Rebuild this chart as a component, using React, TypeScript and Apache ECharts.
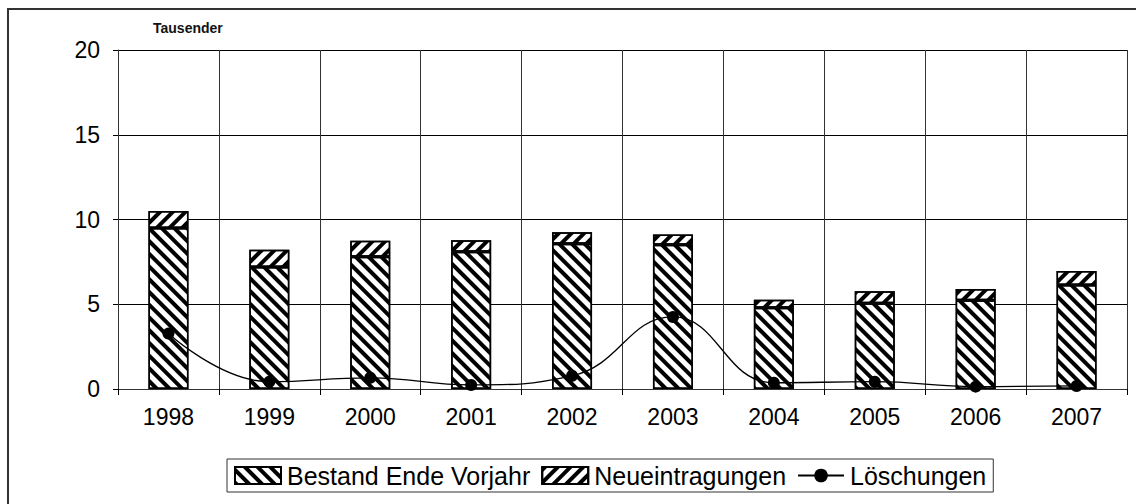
import React, { useEffect, useRef } from "react";
import * as echarts from "echarts";

const years = ["1998", "1999", "2000", "2001", "2002", "2003", "2004", "2005", "2006", "2007"];
const bestand = [9.5, 7.2, 7.8, 8.1, 8.57, 8.51, 4.8, 5.06, 5.24, 6.14];
const neu = [1.0, 1.02, 0.95, 0.68, 0.68, 0.6, 0.47, 0.7, 0.66, 0.82];
const loeschungen = [3.27, 0.43, 0.66, 0.24, 0.78, 4.25, 0.37, 0.43, 0.14, 0.18];
const yTicks = { min: 0, max: 20, interval: 5 };

const FONT = "'Liberation Sans', Arial, sans-serif";

export default function App() {
  const ref = useRef<HTMLDivElement>(null);
  useEffect(() => {
    if (!ref.current) return;
    const chart = echarts.init(ref.current, undefined, { renderer: "svg" });
    const decalBack = {
      symbol: "rect",
      symbolSize: 1,
      dashArrayX: [1, 0],
      dashArrayY: [3.5, 4.5],
      rotation: Math.PI / 4,
      color: "#000",
      backgroundColor: "#fff",
    };
    const decalFwd = {
      symbol: "rect",
      symbolSize: 1,
      dashArrayX: [1, 0],
      dashArrayY: [3.5, 4.5],
      rotation: -Math.PI / 4,
      color: "#000",
      backgroundColor: "#fff",
    };
    chart.setOption({
      animation: false,
      backgroundColor: "#fff",
      textStyle: { fontFamily: FONT },
      grid: { left: 118, right: 9, top: 50, bottom: 115, containLabel: false },
      graphic: [
        { type: "line", shape: { x1: 7, y1: 9, x2: 1136, y2: 9 }, style: { stroke: "#333", lineWidth: 2 } },
        { type: "line", shape: { x1: 8, y1: 9, x2: 8, y2: 504 }, style: { stroke: "#333", lineWidth: 2 } },
        {
          type: "text",
          left: 153,
          top: 21,
          style: { text: "Tausender", font: `bold 14px ${FONT}`, fill: "#111" },
        },
      ],
      legend: {
        left: 227,
        top: 459,
        orient: "horizontal",
        itemWidth: 46,
        itemHeight: 17,
        itemGap: 11,
        padding: [4, 7, 4, 7],
        borderColor: "#333",
        borderWidth: 1,
        textStyle: { fontSize: 25, color: "#000", fontFamily: FONT, padding: [0, 0, 0, 1] },
        data: [
          { name: "Bestand Ende Vorjahr", icon: "rect" },
          { name: "Neueintragungen", icon: "rect" },
          { name: "Löschungen" },
        ],
      },
      xAxis: {
        type: "category",
        data: years,
        boundaryGap: true,
        axisLine: { lineStyle: { color: "#333", width: 1 } },
        axisTick: { show: true, length: 6, lineStyle: { color: "#000" } },
        axisLabel: { fontSize: 23, color: "#000", margin: 16, fontFamily: FONT },
        splitLine: { show: true, lineStyle: { color: "#333", width: 1 } },
      },
      yAxis: {
        type: "value",
        min: yTicks.min,
        max: yTicks.max,
        interval: yTicks.interval,
        axisLine: { show: true, lineStyle: { color: "#333", width: 1 } },
        axisTick: { show: true, length: 5, lineStyle: { color: "#000" } },
        axisLabel: { fontSize: 23, color: "#000", margin: 18, fontFamily: FONT },
        splitLine: { show: true, lineStyle: { color: "#000", width: 1 } },
      },
      series: [
        {
          name: "Bestand Ende Vorjahr",
          type: "bar",
          stack: "a",
          barWidth: 40,
          data: bestand,
          itemStyle: { color: "#fff", borderColor: "#000", borderWidth: 1.5, decal: decalBack },
        },
        {
          name: "Neueintragungen",
          type: "bar",
          stack: "a",
          barWidth: 40,
          data: neu,
          itemStyle: { color: "#fff", borderColor: "#000", borderWidth: 1.5, decal: decalFwd },
        },
        {
          name: "Löschungen",
          type: "line",
          data: loeschungen,
          smooth: 0.45,
          symbol: "circle",
          symbolSize: 12,
          lineStyle: { color: "#000", width: 1.3 },
          itemStyle: { color: "#000" },
          z: 5,
        },
      ],
    });
    return () => chart.dispose();
  }, []);
  return (
    <div
      ref={ref}
      style={{ position: "fixed", left: 0, top: 0, width: 1136, height: 504 }}
    />
  );
}
